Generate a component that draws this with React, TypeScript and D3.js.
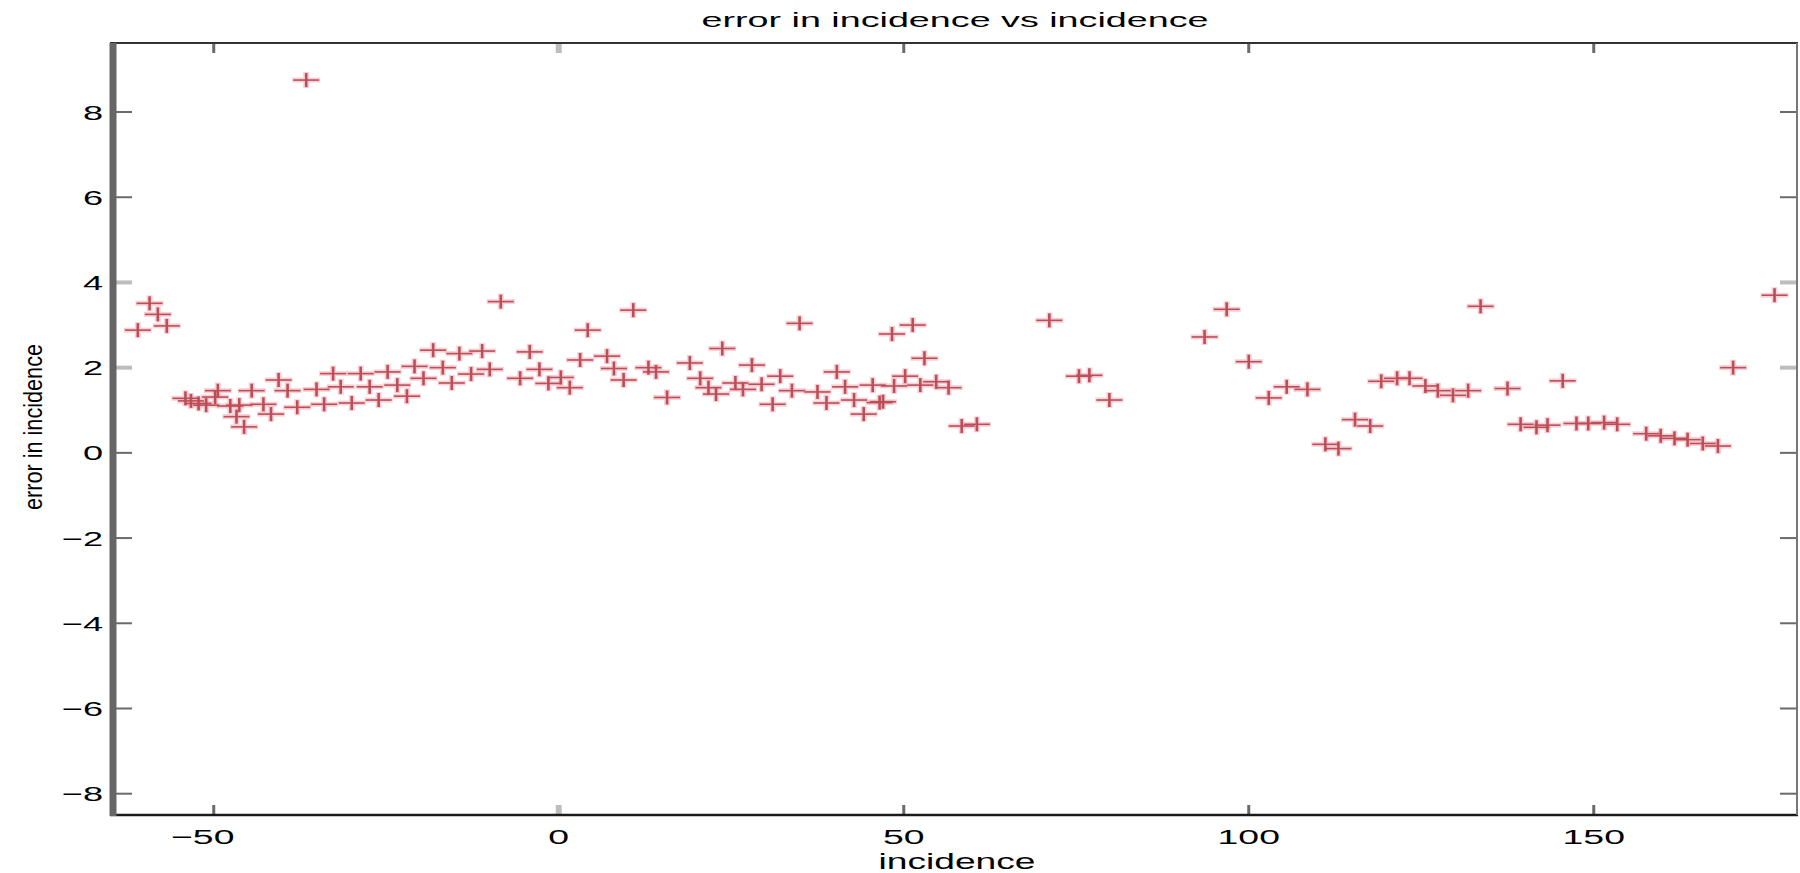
import React from "react";
import * as d3 from "d3";

const incidence = [
  -61.0, -59.3, -58.1, -56.8, -54.1, -53.3, -52.2, -51.1, -49.8, -49.4,
  -47.6, -46.3, -46.7, -45.6, -44.5, -42.8, -41.7, -40.6, -39.3, -37.9,
  -36.6, -35.1, -34.0, -32.7, -31.6, -30.0, -28.7, -27.4, -26.1, -24.8,
  -23.4, -22.0, -20.9, -19.6, -18.2, -16.8, -15.5, -14.4, -12.7, -11.1,
  -10.0, -8.4, -5.6, -4.2, -2.8, -1.5, 0.3, 1.6, 3.1, 4.2,
  7.0, 8.0, 9.4, 10.8, 13.0, 14.1, 15.7, 19.0, 20.5, 21.7,
  22.8, 23.7, 25.6, 26.7, 28.0, 29.4, 31.0, 32.1, 33.8, 34.9,
  37.5, 38.8, 40.3, 41.5, 42.8, 44.2, 45.5, 46.5, 47.0, 48.3,
  48.6, 50.2, 51.3, 52.4, 53.0, 54.7, 56.5, 58.4, 60.6, 71.1,
  75.4, 76.9, 79.8, 93.6, 96.8, 100.0, 102.9, 105.5, 108.5, 111.1,
  113.0, 115.4, 117.6, 119.2, 121.5, 123.3, 125.6, 127.4, 129.6, 131.8,
  133.6, 137.5, 139.4, 141.7, 143.3, 145.5, 147.5, 149.2, 151.5, 153.4,
  157.6, 159.7, 161.7, 163.6, 165.8, 168.0, 170.2, 176.2,
];

const errorInIncidence = [
  2.88, 3.51, 3.25, 2.98, 1.28, 1.22, 1.16, 1.12, 1.31, 1.46,
  1.10, 1.12, 0.85, 0.61, 1.46, 1.14, 0.91, 1.71, 1.46, 1.07,
  8.75, 1.49, 1.14, 1.86, 1.55, 1.17, 1.86, 1.55, 1.24, 1.90,
  1.59, 1.33, 2.03, 1.75, 2.41, 2.00, 1.64, 2.33, 1.85, 2.39,
  1.96, 3.55, 1.75, 2.37, 1.96, 1.63, 1.77, 1.53, 2.18, 2.88,
  2.27, 1.98, 1.71, 3.35, 2.00, 1.90, 1.30, 2.11, 1.75, 1.53,
  1.38, 2.45, 1.64, 1.49, 2.06, 1.61, 1.14, 1.80, 1.46, 3.04,
  1.43, 1.17, 1.90, 1.55, 1.24, 0.91, 1.59, 1.18, 1.20, 2.79,
  1.57, 1.80, 3.00, 1.59, 2.22, 1.67, 1.53, 0.63, 0.67, 3.11,
  1.80, 1.82, 1.24, 2.72, 3.37, 2.14, 1.29, 1.55, 1.49, 0.20,
  0.10, 0.78, 0.63, 1.68, 1.75, 1.75, 1.57, 1.46, 1.35, 1.46,
  3.44, 1.51, 0.67, 0.60, 0.65, 1.69, 0.69, 0.69, 0.71, 0.67,
  0.45, 0.40, 0.34, 0.31, 0.22, 0.16, 2.00, 3.70,
];

const xTicks = [-50, 0, 50, 100, 150];
const yTicks = [-8, -6, -4, -2, 0, 2, 4, 6, 8];

const titleText = "error in incidence vs incidence";
const xLabelText = "incidence";
const yLabelText = "error in incidence";

const W = 1800;
const H = 873;
const L = 113;
const R = 1798;
const T = 43;
const B = 815;

const FONT = "'Liberation Sans', Arial, Helvetica, sans-serif";

function fmt(v: number) {
  return v < 0 ? "\u2212" + Math.abs(v) : String(v);
}

export default function App() {
  const x = d3.scaleLinear().domain([-64.6, 179.6]).range([L, R]);
  const y = d3.scaleLinear().domain([-8.5, 9.62]).range([B, T]);
  const pts = incidence.map((u, i) => [x(u), y(errorInIncidence[i])]);
  const faintY = (v: number) => v === 2 || v === 4;
  const faintX = (v: number) => v === 0;

  return (
    <svg
      width={W}
      height={H}
      style={{ position: "absolute", left: 0, top: 0, background: "#fff" }}
      fontFamily={FONT}
    >
      <rect x={0} y={0} width={W} height={H} fill="#fff" />
      <g>
        {pts.map(([px, py], i) => (
          <g key={"h" + i} transform={`translate(${px},${py})`} opacity={0.6}>
            <line x1={-14} x2={14} y1={0} y2={0} stroke="#f4b4bc" strokeWidth={5} />
            <line x1={0} x2={0} y1={-8} y2={8} stroke="#f4b4bc" strokeWidth={6} />
          </g>
        ))}
        {pts.map(([px, py], i) => (
          <g key={"m" + i} transform={`translate(${px},${py})`}>
            <line x1={-13} x2={13} y1={0} y2={0} stroke="#bb4e58" strokeWidth={1.6} />
            <line x1={0} x2={0} y1={-7} y2={7} stroke="#bb4e58" strokeWidth={2.6} />
          </g>
        ))}
      </g>

      {yTicks.map((v) => (
        <g key={"yt" + v}>
          <line
            x1={L + 3}
            x2={L + 19}
            y1={y(v)}
            y2={y(v)}
            stroke={faintY(v) ? "#bdbdbd" : "#6a6a6a"}
            strokeWidth={faintY(v) ? 4 : 2}
          />
          <line
            x1={R - 18}
            x2={R}
            y1={y(v)}
            y2={y(v)}
            stroke={faintY(v) ? "#bdbdbd" : "#6a6a6a"}
            strokeWidth={faintY(v) ? 4 : 2}
          />
          <text
            transform={`translate(103,${y(v) + 7.5}) scale(1.72,1)`}
            textAnchor="end"
            fontSize={21}
            fill="#000"
          >
            {fmt(v)}
          </text>
        </g>
      ))}

      {xTicks.map((v) => (
        <g key={"xt" + v}>
          <line
            x1={x(v)}
            x2={x(v)}
            y1={T}
            y2={T + 10}
            stroke={faintX(v) ? "#bdbdbd" : "#6a6a6a"}
            strokeWidth={faintX(v) ? 6 : 3}
          />
          <line
            x1={x(v)}
            x2={x(v)}
            y1={B - 10}
            y2={B}
            stroke={faintX(v) ? "#bdbdbd" : "#6a6a6a"}
            strokeWidth={faintX(v) ? 6 : 3}
          />
          <text
            transform={`translate(${x(v) - (v < 0 ? 11 : 0)},844) scale(1.78,1)`}
            textAnchor="middle"
            fontSize={21}
            fill="#000"
          >
            {fmt(v)}
          </text>
        </g>
      ))}

      <line x1={L - 3} x2={R} y1={T} y2={T} stroke="#333" strokeWidth={2} />
      <line x1={L - 3} x2={R} y1={B} y2={B} stroke="#1a1a1a" strokeWidth={2.5} />
      <line x1={R - 1} x2={R - 1} y1={T} y2={B} stroke="#777" strokeWidth={2} />
      <line x1={L} x2={L} y1={T} y2={B + 1} stroke="#666" strokeWidth={7} />

      <text
        x={955}
        y={27}
        textAnchor="middle"
        fontSize={21}
        textLength={507}
        lengthAdjust="spacingAndGlyphs"
        fill="#000"
      >
        {titleText}
      </text>

      <text
        x={957}
        y={869}
        textAnchor="middle"
        fontSize={22}
        textLength={157}
        lengthAdjust="spacingAndGlyphs"
        fill="#000"
      >
        {xLabelText}
      </text>

      <text
        transform={`translate(42,427) rotate(-90)`}
        textAnchor="middle"
        fontSize={26}
        textLength={166}
        lengthAdjust="spacingAndGlyphs"
        fill="#000"
      >
        {yLabelText}
      </text>
    </svg>
  );
}
